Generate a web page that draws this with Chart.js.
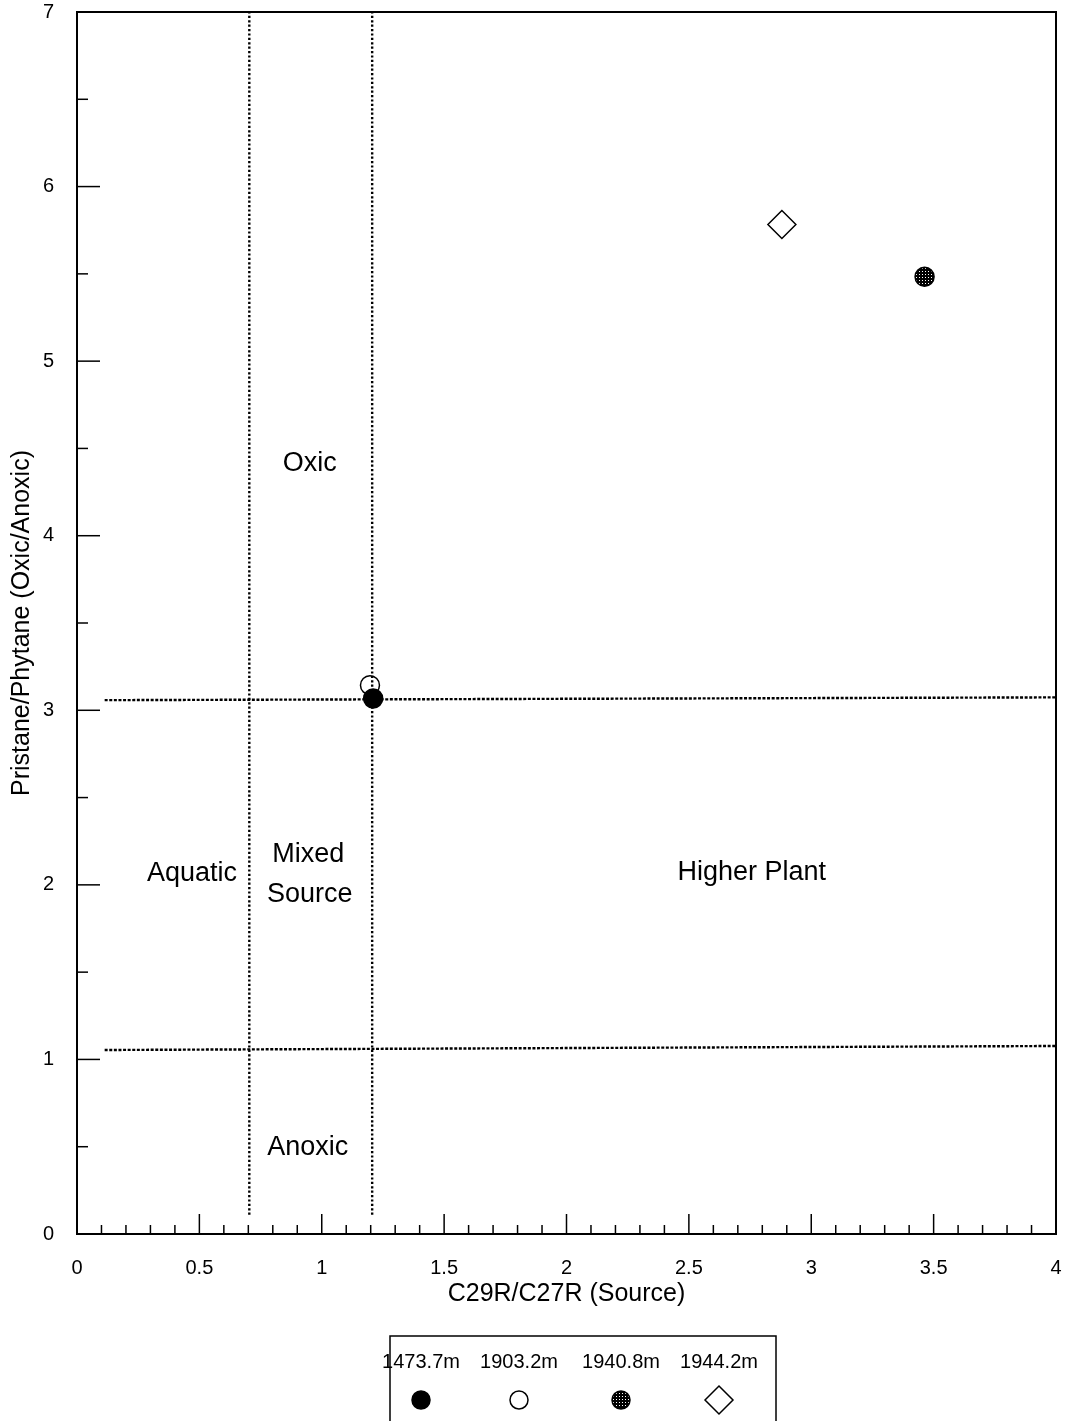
<!DOCTYPE html>
<html>
<head>
<meta charset="utf-8">
<script src="https://cdn.jsdelivr.net/npm/chart.js@4/dist/chart.umd.min.js"></script>
<style>
html,body{margin:0;padding:0;background:#fff;}
#wrap{position:relative;width:1065px;height:1421px;}
</style>
</head>
<body>
<div id="wrap"><canvas id="c" width="1065" height="1421"></canvas></div>
<script>
// ---- data ----
const sampleDepths = ['1473.7m', '1903.2m', '1940.8m', '1944.2m'];
const c29c27 = [1.210, 1.197, 3.463, 2.880];
const prPh = [3.068, 3.144, 5.483, 5.783];

const xTicks = [0, 0.5, 1, 1.5, 2, 2.5, 3, 3.5, 4];
const yTicks = [0, 1, 2, 3, 4, 5, 6, 7];

// boundary lines (data coordinates)
const sourceBoundaryX = [0.704, 1.206];
const sourceBoundaryY = [0.11, 7];
const oxicBoundaryX = [0.113, 4];
const oxicBoundaryY = [3.058, 3.074];
const anoxicBoundaryX = [0.113, 4];
const anoxicBoundaryY = [1.054, 1.077];

const regionNames = ['Oxic', 'Aquatic', 'Mixed', 'Source', 'Higher Plant', 'Anoxic'];
const regionX = [0.951, 0.470, 0.945, 0.951, 2.757, 0.943];
const regionY = [4.416, 2.063, 2.175, 1.945, 2.073, 0.493];

// ---- styles ----
const FONT = '"Liberation Sans", Arial, Helvetica, sans-serif';
const pc = document.createElement('canvas');
pc.width = 3; pc.height = 3;
const pg = pc.getContext('2d');
pg.fillStyle = '#000'; pg.fillRect(0, 0, 3, 3);
pg.fillStyle = '#fff'; pg.fillRect(1, 1, 1, 1);
const hatch = pg.createPattern(pc, 'repeat');

const markerStyles = [
  {pointStyle: 'circle', radius: 9.5, fill: '#000', border: '#000', bw: 1.5},
  {pointStyle: 'circle', radius: 9.5, fill: 'rgba(0,0,0,0)', border: '#000', bw: 1.5},
  {pointStyle: 'circle', radius: 9.5, fill: hatch, border: '#000', bw: 1.5},
  {pointStyle: 'rectRot', radius: 14, fill: 'rgba(0,0,0,0)', border: '#000', bw: 1.5}
];

const datasets = [];
sampleDepths.forEach((d, i) => {
  const m = markerStyles[i];
  datasets.push({
    label: d,
    data: [{x: c29c27[i], y: prPh[i]}],
    pointStyle: m.pointStyle,
    pointRadius: m.radius,
    pointHoverRadius: m.radius,
    backgroundColor: m.fill,
    borderColor: m.border,
    borderWidth: m.bw,
    order: i === 0 ? 0 : 1
  });
});
function lineDs(xs, ys, dash) {
  return {
    type: 'line',
    label: '',
    data: xs.map((x, i) => ({x: x, y: ys[i]})),
    borderColor: '#000',
    borderWidth: 2.4,
    borderDash: dash,
    pointRadius: 0,
    fill: false,
    order: 5
  };
}
datasets.push(lineDs([sourceBoundaryX[0], sourceBoundaryX[0]], sourceBoundaryY, [2.2, 2.2]));
datasets.push(lineDs([sourceBoundaryX[1], sourceBoundaryX[1]], sourceBoundaryY, [2.2, 2.2]));
datasets.push(lineDs(oxicBoundaryX, oxicBoundaryY, [3, 1.6]));
datasets.push(lineDs(anoxicBoundaryX, anoxicBoundaryY, [3, 1.6]));

const framePlugin = {
  id: 'frame',
  afterDatasetsDraw(chart) {
    const ctx = chart.ctx;
    const a = chart.chartArea;
    const xs = chart.scales.x, ys = chart.scales.y;
    ctx.save();
    ctx.strokeStyle = '#000';
    ctx.lineWidth = 2;
    ctx.strokeRect(a.left, a.top, a.right - a.left, a.bottom - a.top);
    ctx.lineWidth = 1.5;
    for (let k = 0; k <= 40; k++) {
      const v = k / 10;
      const px = xs.getPixelForValue(v);
      const len = (k % 5 === 0) ? 20 : 9;
      ctx.beginPath();
      ctx.moveTo(px, a.bottom);
      ctx.lineTo(px, a.bottom - len);
      ctx.stroke();
    }
    for (let k = 0; k <= 14; k++) {
      const v = k / 2;
      const py = ys.getPixelForValue(v);
      const len = (k % 2 === 0) ? 23 : 11;
      ctx.beginPath();
      ctx.moveTo(a.left, py);
      ctx.lineTo(a.left + len, py);
      ctx.stroke();
    }
    ctx.fillStyle = '#000';
    ctx.font = '27px ' + FONT;
    ctx.textAlign = 'center';
    ctx.textBaseline = 'middle';
    regionNames.forEach((n, i) => {
      ctx.fillText(n, xs.getPixelForValue(regionX[i]), ys.getPixelForValue(regionY[i]));
    });
    ctx.restore();
  },
  afterDraw(chart) {
    const ctx = chart.ctx;
    ctx.save();
    const bx = 390, by = 1336, bw = 386, bh = 100;
    ctx.strokeStyle = '#000';
    ctx.lineWidth = 1.5;
    ctx.strokeRect(bx, by, bw, bh);
    const centers = [421, 519, 621, 719];
    ctx.font = '20px ' + FONT;
    ctx.textAlign = 'center';
    ctx.textBaseline = 'middle';
    sampleDepths.forEach((d, i) => {
      ctx.fillStyle = '#000';
      ctx.fillText(d, centers[i], 1362);
      const m = markerStyles[i];
      ctx.fillStyle = m.fill;
      ctx.strokeStyle = m.border;
      ctx.lineWidth = m.bw;
      Chart.helpers.drawPoint(ctx, {pointStyle: m.pointStyle, radius: m.pointStyle === 'rectRot' ? 14 : 9, rotation: 0, borderWidth: m.bw}, centers[i], 1400);
    });
    ctx.restore();
  }
};

new Chart(document.getElementById('c'), {
  type: 'scatter',
  data: {datasets: datasets},
  options: {
    responsive: false,
    devicePixelRatio: 1,
    animation: false,
    events: [],
    layout: {autoPadding: false, padding: {left: 0, top: 12, right: 9, bottom: 107}},
    plugins: {legend: {display: false}, tooltip: {enabled: false}},
    scales: {
      x: {
        type: 'linear', min: 0, max: 4,
        afterBuildTicks: s => { s.ticks = xTicks.map(v => ({value: v})); },
        afterFit: s => { s.height = 80; s.paddingLeft = 0; s.paddingRight = 0; },
        grid: {display: false, drawTicks: false},
        border: {display: false},
        ticks: {
          padding: 22, color: '#000', maxRotation: 0, autoSkip: false,
          font: {family: FONT, size: 20},
          callback: v => String(v)
        },
        title: {
          display: true, text: 'C29R/C27R (Source)', color: '#000',
          font: {family: FONT, size: 25}, padding: {top: 0, bottom: 5}
        }
      },
      y: {
        type: 'linear', min: 0, max: 7,
        afterBuildTicks: s => { s.ticks = yTicks.map(v => ({value: v})); },
        afterFit: s => { s.width = 77; s.paddingTop = 0; s.paddingBottom = 0; },
        grid: {display: false, drawTicks: false},
        border: {display: false},
        ticks: {
          padding: 23, color: '#000', autoSkip: false,
          font: {family: FONT, size: 20},
          callback: v => String(v)
        },
        title: {
          display: true, text: 'Pristane/Phytane (Oxic/Anoxic)', color: '#000',
          font: {family: FONT, size: 25}, padding: {top: 7, bottom: 0}
        }
      }
    }
  },
  plugins: [framePlugin]
});
</script>
</body>
</html>
